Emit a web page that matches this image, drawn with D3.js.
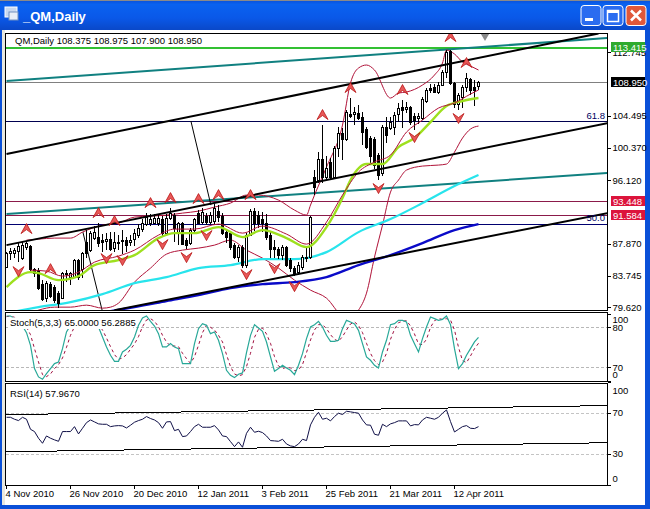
<!DOCTYPE html>
<html>
<head>
<meta charset="utf-8">
<script src="https://cdn.jsdelivr.net/npm/d3@7/dist/d3.min.js"></script>
<style>
html,body{margin:0;padding:0;background:#fff;overflow:hidden}
svg{display:block}
text{font-family:"Liberation Sans",Arial,sans-serif;font-size:9.5px;fill:#000}
</style>
</head>
<body>
<svg id="c" width="650" height="509"></svg>
<script>
const open=[84.84,86.66,86.66,86.92,86.01,87.44,87.57,84.58,84.45,82.63,
80.81,82.63,82.24,81.46,80.81,83.93,83.54,83.54,85.75,84.58,
88.09,87.05,88.61,88.74,88.35,88.22,88.48,87.31,88.09,88.22,
88.35,88.09,88.48,89.0,89.78,90.43,90.56,90.56,90.56,91.08,
89.26,91.21,91.6,89.39,90.56,88.35,87.96,89.65,91.86,90.69,
91.47,90.69,90.82,92.12,91.47,89.39,89.26,87.7,86.14,87.44,
85.1,89.0,92.12,91.6,91.08,90.56,89.0,87.44,87.18,86.4,
87.44,85.75,84.71,84.19,84.84,86.01,86.14,96.54,96.15,98.88,
96.54,98.49,96.54,100.31,102.26,101.48,104.73,104.73,104.86,104.34,
102.78,101.61,101.48,99.4,97.06,103.04,102.91,103.04,104.73,105.64,
105.38,105.64,104.47,104.21,104.21,106.42,108.11,108.24,107.59,108.5,
110.19,112.92,108.76,106.03,106.94,108.24,109.28,108.24,108.375];
const high=[86.79,87.31,87.31,87.96,88.09,88.22,87.7,84.71,84.71,83.15,
83.02,82.89,82.5,81.72,84.19,84.45,84.19,85.88,85.88,86.79,
89.65,89.52,90.17,90.56,89.13,89.26,89.39,89.39,89.0,89.65,
88.74,89.0,89.78,90.43,91.08,91.86,91.73,91.73,91.6,91.47,
91.73,92.51,91.86,90.69,90.69,88.61,89.91,91.21,92.25,92.51,
91.86,91.99,93.03,92.9,91.86,89.65,89.52,87.96,87.7,87.7,
89.26,92.38,92.51,92.12,91.99,91.73,89.39,88.35,87.44,87.7,
87.57,86.01,84.97,85.49,86.4,87.44,91.47,97.45,99.79,103.3,
99.27,99.01,100.57,103.04,102.91,105.25,106.81,105.64,105.9,104.99,
103.04,101.87,101.74,99.66,103.3,104.34,104.34,104.99,106.16,106.55,
106.29,105.77,104.86,104.86,106.94,108.11,108.63,108.63,108.89,110.45,
113.05,113.05,108.89,107.46,108.5,110.06,109.41,109.15,108.975];
const low=[84.71,85.75,86.01,85.49,85.75,87.05,84.19,83.54,81.85,80.42,
80.29,80.81,80.16,79.51,80.68,82.89,82.5,83.41,83.15,83.41,
86.01,86.79,88.35,87.44,86.79,87.05,86.92,86.79,87.05,86.53,
86.79,87.57,87.57,88.61,89.39,90.17,90.17,90.43,90.17,88.87,
88.87,90.95,88.09,87.7,87.7,87.18,87.7,89.39,90.43,90.43,
90.3,90.43,90.43,90.69,89.0,87.96,87.05,85.88,85.49,84.71,
84.71,88.87,89.52,89.91,89.39,88.35,86.01,86.01,85.88,85.75,
84.84,84.19,83.67,83.8,84.45,85.49,85.88,94.2,95.76,95.76,
96.15,96.15,96.41,99.14,98.75,101.22,104.21,103.3,103.95,100.7,
100.18,98.36,97.58,96.15,96.67,100.96,102.65,102.0,103.69,102.91,
104.86,103.3,102.65,103.43,103.95,106.16,107.46,107.46,107.33,108.37,
109.41,108.5,105.51,105.25,105.51,107.59,107.2,105.77,107.9];
const close=[86.66,86.92,87.1,87.57,87.7,87.96,84.58,84.06,82.11,80.68,
82.76,81.07,80.55,80.16,84.06,84.06,84.06,85.75,83.54,86.66,
86.66,89.26,89.39,87.96,88.09,88.48,87.18,88.09,87.96,88.35,
87.7,88.35,89.26,89.91,90.56,91.34,91.08,91.21,91.21,89.26,
91.21,91.86,89.91,90.56,87.83,87.7,89.65,91.08,90.56,91.99,
90.69,91.6,92.51,91.34,89.26,88.74,87.44,86.14,87.44,85.1,
89.0,92.12,90.56,90.56,90.56,88.74,87.18,87.18,86.4,87.44,
85.1,84.71,84.06,85.1,86.14,86.14,91.34,95.24,98.88,96.54,
97.71,96.54,100.31,102.26,101.48,104.99,104.47,104.99,104.21,102.39,
100.44,99.27,98.1,96.8,103.04,102.0,103.69,104.6,105.51,105.25,
105.64,103.69,103.95,104.47,106.68,107.85,107.85,107.59,108.5,110.19,
112.79,108.76,106.03,107.2,108.24,109.41,107.85,107.85,108.95];

const maBars=[0,6,8,13,18,22,28,32,38,42,47,53,59,64,70,75,80,84,86,90,94,98,102,106,110,114,118];
const maVals=[82.24,84.19,84.06,83.15,83.67,85.1,85.75,86.4,88.61,89.26,89.26,90.04,88.74,89.65,88.61,87.44,90.04,93.81,96.15,98.23,98.23,100.44,101.61,103.69,105.77,106.42,106.81];
const midBars=[6,10,14,18,22,28,32,38,42,47,53,59,64,70,75,80,84,88,92,96,100,104,108,112,116,118];
const midVals=[84.45,84.32,83.67,84.19,85.49,86.27,87.05,89.0,89.78,89.78,90.43,89.26,90.17,89.13,87.83,90.69,94.2,97.19,98.49,99.4,102.39,103.95,105.51,106.16,107.33,107.85];
const upBars=[5,8,12,16,19,24,28,32,36,40,44,48,52,56,60,63,68,72,75,76,77,80,84,86,88,90,92,96,98,100,104,107,109,110,112,114,116,118];
const upVals=[88.35,88.48,88.61,88.61,89.39,90.3,90.56,91.34,91.47,91.6,91.86,92.12,92.64,93.16,94.2,94.2,93.55,92.25,91.6,92.9,94.2,97.84,103.3,108.76,110.71,111.1,110.45,106.81,107.46,107.59,108.5,109.8,111.36,113.05,112.53,111.49,110.97,110.45];
const loBars=[4,8,12,16,20,24,26,28,32,36,40,44,48,52,56,60,64,68,72,76,80,84,86,88,90,92,94,96,98,100,104,108,110,112,114,116,118];
const loVals=[78.47,79.25,79.64,79.64,79.9,79.51,79.64,80.16,82.89,84.71,86.53,87.05,87.31,87.7,88.35,87.05,86.01,84.71,83.15,81.85,80.81,78.47,78.21,79.25,81.46,86.14,90.3,94.59,96.15,97.45,97.97,98.1,98.23,99.79,101.61,102.78,103.17];
const cyanBars=[0,8,16,24,32,40,48,56,64,72,80,88,96,104,112,118];
const cyanVals=[78.86,79.64,80.29,81.33,82.76,83.54,84.71,85.1,85.88,85.88,86.79,89.39,91.08,93.16,95.37,96.8];
const blueBars=[26,32,40,48,56,64,72,80,88,96,104,112,118];
const blueVals=[79.12,79.64,80.42,81.2,82.11,82.63,82.89,83.54,85.1,86.4,87.96,89.65,90.43];

const stochMain=[97,97,93,85.5,82,72,53,18,5.5,2,10.5,18,25.5,28,48,73,83,88,90.5,90.5,
88,84,83,80.5,65.5,50.5,38,29,29,43,47,53,65.5,83,94,97,89,82,70.5,50.5,
50.5,55.5,50.5,48,25.5,25.5,25.5,55.5,78,85.5,83,70.5,73,60.5,40.5,15.5,8,4.5,9.5,11.5,
42,68,84,79,74,58,35.5,14,18,23,19,15.5,9,23,40.5,63,80.5,84,89,80.5,
68,59,59,60.5,78,90.5,88,85,75.5,55.5,35.5,30.5,23,19,43,60.5,84,85.5,90.5,90.5,
88,68,55.5,43,63,80.5,95.5,93,90.5,92,97,84,48,18,25.5,38,48,58,65];
const stochSignal=[96,97,95,92,87,80,69,48,28,9,6,10,18,24,34,50,68,81,87,90,
90,88,85,83,76,64,51,39,32,34,39,47,55,66,81,91,93,89,81,68,
58,52,52,51,41,33,26,36,53,72,83,80,76,68,58,39,21,10,7,9,
21,41,65,77,79,70,56,36,22,18,20,19,15,16,24,42,61,76,84,84,
78,69,62,59,66,76,85,88,83,72,56,41,30,24,28,41,62,77,87,89,
90,82,70,55,54,62,80,90,93,92,93,91,76,50,30,27,37,48,56];
const rsi=[65.6,65.6,63.7,62.4,65.6,63.7,53.9,51.7,45.2,40.3,47.4,45.2,43.6,42.2,51.7,51.7,51.7,56.5,49.4,54.9,
60.4,63.0,61.1,59.2,58.8,58.8,56.5,57.2,57.5,57.2,55.2,57.9,60.8,62.4,63.7,66.3,64.4,63.0,60.4,54.9,
61.1,61.4,52.6,53.9,46.8,47.4,51.7,56.5,58.8,55.9,55.9,55.9,57.5,53.3,47.4,46.8,41.9,37.0,41.6,36.4,
50.0,55.9,51.0,52.0,50.7,47.4,42.9,42.6,42.2,44.2,39.6,37.7,37.0,39.6,44.2,42.9,58.2,65.6,70.5,63.7,
64.7,62.1,66.3,69.6,68.3,71.5,70.9,70.2,69.6,63.0,58.2,57.9,49.1,48.1,58.8,56.5,59.2,60.4,62.1,62.1,
62.1,57.2,58.5,58.2,63.0,65.6,64.7,63.7,65.6,69.6,72.8,61.4,51.3,53.9,56.5,57.5,54.9,54.6,56.5];

const fractalUpBars=[5,11,23,27,36,41,48,53,61,79,86,99,111,115];
const fractalUpVals=[89.78,84.58,91.86,90.82,93.16,93.81,93.68,94.2,94.2,104.6,108.11,107.85,114.74,111.36];
const fractalDownBars=[3,25,29,39,45,50,60,67,72,93,102,113];
const fractalDownVals=[84.32,86.01,85.75,87.83,86.14,89.0,83.93,84.71,82.37,95.11,101.74,104.21];

const trendBars=[[0,148],[0,150.25],[27,150.25]];
const trendVals=[[99.53,115.2],[87.7,103.56],[79.25,91.86]];
const tealBars=[[0,150.25],[0,150.25]];
const tealVals=[[109.02,114.61],[91.73,97.06]];
const diagBars=[[46.1,51.1],[19.1,23.9]];
const diagVals=[[103.82,92.9],[89.39,79.25]];
const rsiTrendBars=[[0,150.25],[0,150.25]];
const rsiTrendVals=[[68.2,77],[32,40.8]];

const priceTicks=[112.745,104.495,100.37,96.12,87.87,83.745,79.62];
const badgeVals=[113.415,108.95,93.448,91.584];
const badgeCols=["#2eaa2e","#000000","#dc143c","#dc143c"];
const fiboVals=[103.82,90.39];
const fiboLabels=["61.8","50.0"];
const dateBars=[0,16,32,48,64,80,96,112];
const dateLabels=["4 Nov 2010","26 Nov 2010","20 Dec 2010","12 Jan 2011","3 Feb 2011","25 Feb 2011","21 Mar 2011","12 Apr 2011"];
const stochTicks=[100,80,20,0];
const stochTickLabels=["100","80","70","0"];
const rsiTicks=[100,70,30,0];

const svg=d3.select("#c");
const defs=svg.append("defs");
const grad=defs.append("linearGradient").attr("id","tb").attr("x1",0).attr("x2",0).attr("y1",0).attr("y2",1);
[[0,"#0a50d8"],[0.15,"#0a62f0"],[0.6,"#0a58e8"],[1,"#0a48c8"]].forEach(s=>grad.append("stop").attr("offset",s[0]).attr("stop-color",s[1]));

const L=5.5,R=607.5;
const x=d3.scaleLinear().domain([0,118]).range([6.5,478.5]);
const y=d3.scaleLinear().domain([79.62,100.37]).range([307.3,147.6]);
const yS=d3.scaleLinear().domain([0,100]).range([380.6,314]);
const yR=d3.scaleLinear().domain([0,100]).range([484.6,382]);

svg.append("rect").attr("width",650).attr("height",509).attr("fill","#fff");
svg.append("rect").attr("width",650).attr("height",30).attr("fill","url(#tb)");
svg.append("rect").attr("width",650).attr("height",1).attr("fill","#8a8a8a");
svg.append("rect").attr("y",30).attr("width",2).attr("height",479).attr("fill","#0a50d8");
svg.append("rect").attr("x",645).attr("y",30).attr("width",5).attr("height",479).attr("fill","#0a50d8");
svg.append("rect").attr("y",505).attr("width",650).attr("height",4).attr("fill","#0a50d8");
svg.append("rect").attr("x",2).attr("y",30).attr("width",3).attr("height",475).attr("fill","#e8e8e0");
svg.append("rect").attr("x",5).attr("y",7).attr("width",12).attr("height",10).attr("fill","#c8d8f0").attr("stroke","#fff");
svg.append("rect").attr("x",9).attr("y",12).attr("width",9).attr("height",8).attr("fill","#e8eef8").attr("stroke","#7090c0");
svg.append("text").attr("x",23).attr("y",21).style("fill","#fff").style("font-size","13px").style("font-weight","bold").text("_QM,Daily");
const btn=svg.append("g");
[[581,"#2a6cf0"],[603,"#2a6cf0"],[626,"#e0583a"]].forEach(b=>{
  btn.append("rect").attr("x",b[0]).attr("y",5.5).attr("width",20).attr("height",20).attr("rx",3).attr("fill",b[1]).attr("stroke","#fff");
});
btn.append("rect").attr("x",585).attr("y",18).attr("width",8).attr("height",3).attr("fill","#fff");
btn.append("rect").attr("x",607.5).attr("y",10.5).attr("width",11).attr("height",11).attr("fill","none").attr("stroke","#fff").attr("stroke-width",1.5);
btn.append("rect").attr("x",607).attr("y",10).attr("width",12).attr("height",3).attr("fill","#fff");
btn.append("path").attr("d","M631,10.5L641,20.5M641,10.5L631,20.5").attr("stroke","#fff").attr("stroke-width",2.5);

const panels=[[33.5,310.5],[312.5,381.5],[383.5,485.5]];
const clip=(id,p)=>defs.append("clipPath").attr("id",id).append("rect").attr("x",L+0.5).attr("y",p[0]+0.5).attr("width",R-L-1).attr("height",p[1]-p[0]-1);
clip("cm",panels[0]);clip("cs",panels[1]);clip("cr",panels[2]);

const main=svg.append("g").attr("clip-path","url(#cm)");
const hline=(v,c,w)=>main.append("line").attr("x1",L).attr("x2",R).attr("y1",Math.round(y(v))+0.5).attr("y2",Math.round(y(v))+0.5).attr("stroke",c).attr("stroke-width",w).attr("shape-rendering","crispEdges");
hline(113.415,"#32c032",2);
hline(108.95,"#808080",1);
hline(fiboVals[0],"#000050",1);
hline(fiboVals[1],"#000070",1);
hline(93.448,"#8b1a4a",1);
hline(91.584,"#8b1a4a",1);

const seg=(b,v,c,w)=>main.append("line").attr("x1",x(b[0])).attr("x2",x(b[1])).attr("y1",y(v[0])).attr("y2",y(v[1])).attr("stroke",c).attr("stroke-width",w);
tealBars.forEach((b,i)=>seg(b,tealVals[i],"#108080",2));
diagBars.forEach((b,i)=>seg(b,diagVals[i],"#000",1));

const curve=(bars,vals)=>d3.line().x(d=>x(d)).y((d,i)=>y(vals[i])).curve(d3.curveMonotoneX)(bars);
main.append("path").attr("d",curve(upBars,upVals)).attr("fill","none").attr("stroke","#b01238").attr("stroke-width",1);
main.append("path").attr("d",curve(loBars,loVals)).attr("fill","none").attr("stroke","#b01238").attr("stroke-width",1);
main.append("path").attr("d",curve(cyanBars,cyanVals)).attr("fill","none").attr("stroke","#28e4ec").attr("stroke-width",2.2);
main.append("path").attr("d",curve(blueBars,blueVals)).attr("fill","none").attr("stroke","#0a0ac8").attr("stroke-width",2.4);

const candles=main.append("g").attr("shape-rendering","crispEdges");
d3.range(open.length).forEach(i=>{
  const cx=x(i),t=y(Math.max(open[i],close[i])),b=y(Math.min(open[i],close[i]));
  candles.append("line").attr("x1",cx).attr("x2",cx).attr("y1",y(high[i])).attr("y2",y(low[i])).attr("stroke","#000");
  candles.append("rect").attr("x",cx-1).attr("width",2).attr("y",Math.round(t)+0.5).attr("height",Math.max(1,Math.round(b-t)))
    .attr("fill",close[i]>=open[i]?"#fff":"#000").attr("stroke","#000");
});

main.append("path").attr("d",curve(maBars,maVals)).attr("fill","none").attr("stroke","#9ee01e").attr("stroke-width",2.4);
main.append("path").attr("d",curve(midBars,midVals)).attr("fill","none").attr("stroke","#b01238").attr("stroke-width",1);

trendBars.forEach((b,i)=>seg(b,trendVals[i],"#000",2));

const arrow=(g,bars,vals,dir)=>{
  bars.forEach((b,i)=>{
    g.append("path").attr("transform",`translate(${x(b)},${y(vals[i])}) scale(1,${dir})`)
     .attr("d","M0,-5.5L5.5,4.5L0,0.5L-5.5,4.5Z").attr("fill","#e85858").attr("stroke","#b81414").attr("stroke-width",0.8).attr("stroke-linejoin","round");
  });
};
arrow(main,fractalUpBars,fractalUpVals,1);
arrow(main,fractalDownBars,fractalDownVals,-1);

main.append("path").attr("d",d3.symbol(d3.symbolTriangle,40)()).attr("transform","translate(485,35.5) rotate(180)").attr("fill","#8a8a8a");

fiboVals.forEach((v,i)=>svg.append("text").attr("x",605).attr("y",y(v)-(i?3:2)).attr("text-anchor","end").style("fill","#000060").text(fiboLabels[i]));

svg.append("text").attr("x",15).attr("y",44).text("QM,Daily   108.375 108.975 107.900 108.950");

const sg=svg.append("g").attr("clip-path","url(#cs)");
[80,20].forEach(v=>sg.append("line").attr("x1",L).attr("x2",R).attr("y1",Math.round(yS(v))+0.5).attr("y2",Math.round(yS(v))+0.5).attr("stroke","#b8b8b8").attr("stroke-dasharray","3,2").attr("shape-rendering","crispEdges"));
const sLine=d3.line().x((d,i)=>x(i)).y(d=>yS(d));
sg.append("path").attr("d",sLine(stochSignal)).attr("fill","none").attr("stroke","#a01040").attr("stroke-width",1).attr("stroke-dasharray","3,3");
sg.append("path").attr("d",sLine(stochMain)).attr("fill","none").attr("stroke","#28a898").attr("stroke-width",1.2);
svg.append("rect").attr("x",8).attr("y",317.5).attr("width",125).attr("height",11.5).attr("fill","#fff");
svg.append("text").attr("x",10).attr("y",326).text("Stoch(5,3,3) 65.0000 56.2885");

const rg=svg.append("g").attr("clip-path","url(#cr)");
[70,30].forEach(v=>rg.append("line").attr("x1",L).attr("x2",R).attr("y1",Math.round(yR(v))+0.5).attr("y2",Math.round(yR(v))+0.5).attr("stroke","#c4c4c4").attr("stroke-dasharray","3,2").attr("shape-rendering","crispEdges"));
rsiTrendBars.forEach((b,i)=>rg.append("line").attr("x1",x(b[0])).attr("x2",x(b[1])).attr("y1",yR(rsiTrendVals[i][0])).attr("y2",yR(rsiTrendVals[i][1])).attr("stroke","#000").attr("stroke-width",1).attr("shape-rendering","crispEdges"));
rg.append("path").attr("d",d3.line().x((d,i)=>x(i)).y(d=>yR(d))(rsi)).attr("fill","none").attr("stroke","#101048").attr("stroke-width",1);
svg.append("text").attr("x",10).attr("y",397).text("RSI(14) 57.9670");

const frameTop=svg.append("g").attr("shape-rendering","crispEdges");
panels.forEach(p=>frameTop.append("rect").attr("x",L).attr("y",p[0]).attr("width",R-L).attr("height",p[1]-p[0]).attr("fill","none").attr("stroke","#000"));

const FONT='"Liberation Sans",Arial,sans-serif';
const styleAxis=g=>{g.select(".domain").remove();g.selectAll("line").attr("stroke","#000").attr("shape-rendering","crispEdges");};
svg.append("g").attr("transform",`translate(${R},0)`)
  .call(d3.axisRight(y).tickValues(priceTicks).tickFormat(d3.format(".3f")).tickSize(3).tickPadding(2)).call(styleAxis)
  .selectAll("text").style("font-family",FONT).style("font-size","9.5px");

const sAxis=svg.append("g").attr("transform",`translate(${R},0)`)
  .call(d3.axisRight(yS).tickValues(stochTicks).tickFormat((d,i)=>stochTickLabels[i]).tickSize(3).tickPadding(2)).call(styleAxis);
sAxis.selectAll("text").style("font-family",FONT).style("font-size","9.5px").attr("y",d=>d===100?5:d===0?-6.5:0);

const rAxis=svg.append("g").attr("transform",`translate(${R},0)`)
  .call(d3.axisRight(yR).tickValues(rsiTicks).tickFormat(d3.format("d")).tickSize(3).tickPadding(2)).call(styleAxis);
rAxis.selectAll("text").style("font-family",FONT).style("font-size","9.5px").attr("y",d=>d===100?8:d===0?-6.5:0);

const dAxis=svg.append("g").attr("transform","translate(-0.5,485.5)")
  .call(d3.axisBottom(x).tickValues(dateBars).tickFormat((d,i)=>dateLabels[i]).tickSize(3).tickPadding(2)).call(styleAxis);
dAxis.selectAll("text").style("font-family",FONT).style("font-size","9.5px").attr("text-anchor","start").attr("x",-1);

badgeVals.forEach((v,i)=>{
  svg.append("rect").attr("x",611).attr("y",Math.round(y(v))-5).attr("width",34).attr("height",10).attr("fill",badgeCols[i]).attr("shape-rendering","crispEdges");
  svg.append("text").attr("x",613).attr("y",Math.round(y(v))+3.5).style("fill","#fff").text(d3.format(".3f")(v));
});
</script>
</body>
</html>
